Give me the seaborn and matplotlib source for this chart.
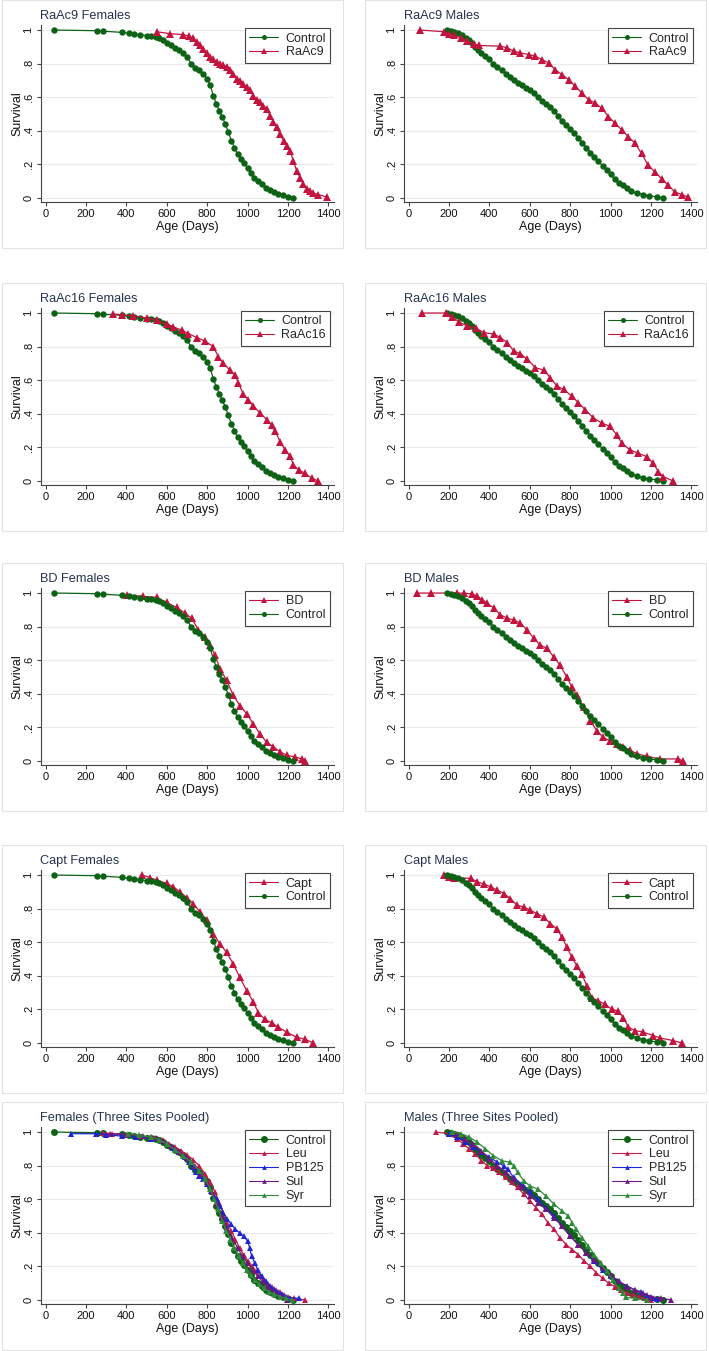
import matplotlib
matplotlib.use("Agg")
import matplotlib.pyplot as plt
from matplotlib.lines import Line2D
from matplotlib.patches import Rectangle
import pandas as pd
import seaborn as sns

# ---- survival data (age in days, survival fraction) ----
ctrl_f_age = [42, 256, 285, 380, 414, 440, 467, 500, 520, 545, 560, 580, 600, 620, 640, 660,
              680, 700, 720, 740, 760, 780, 800, 815, 830, 845, 860, 875, 890, 905, 920, 935,
              950, 965, 980, 1000, 1015, 1030, 1050, 1070, 1090, 1110, 1130, 1150, 1175, 1200, 1225]
ctrl_f_surv = [1.0, 0.996, 0.993, 0.986, 0.98, 0.976, 0.972, 0.967, 0.963, 0.96, 0.955, 0.94,
               0.925, 0.91, 0.895, 0.88, 0.865, 0.84, 0.80, 0.775, 0.76, 0.74, 0.71, 0.67, 0.61,
               0.56, 0.52, 0.48, 0.44, 0.39, 0.34, 0.30, 0.26, 0.235, 0.21, 0.18, 0.15, 0.12,
               0.10, 0.085, 0.06, 0.045, 0.035, 0.025, 0.015, 0.008, 0.0]

ctrl_m_age = [192, 210, 225, 245, 265, 285, 300, 315, 330, 345, 360, 380, 400, 420, 440, 460,
              480, 500, 520, 540, 560, 580, 600, 620, 640, 660, 680, 700, 720, 740, 760, 780,
              800, 820, 840, 860, 880, 900, 920, 940, 960, 980, 1000, 1020, 1040, 1060, 1080,
              1100, 1130, 1160, 1190, 1230, 1260]
ctrl_m_surv = [1.0, 0.995, 0.99, 0.98, 0.97, 0.955, 0.94, 0.92, 0.90, 0.88, 0.865, 0.845, 0.825,
               0.80, 0.78, 0.76, 0.74, 0.72, 0.70, 0.685, 0.67, 0.655, 0.64, 0.625, 0.60, 0.58,
               0.56, 0.54, 0.515, 0.49, 0.46, 0.435, 0.41, 0.385, 0.36, 0.33, 0.30, 0.27, 0.245,
               0.22, 0.19, 0.165, 0.14, 0.11, 0.09, 0.075, 0.06, 0.04, 0.03, 0.02, 0.012, 0.007, 0.0]

raac9_f_age = [550, 616, 679, 712, 730, 748, 765, 781, 798, 814, 830, 847, 863, 880, 897, 913,
               930, 946, 962, 979, 995, 1012, 1029, 1045, 1062, 1078, 1095, 1111, 1128, 1145,
               1161, 1178, 1194, 1210, 1227, 1243, 1260, 1276, 1293, 1310, 1326, 1350, 1395]
raac9_f_surv = [0.99, 0.978, 0.973, 0.964, 0.95, 0.93, 0.91, 0.89, 0.865, 0.84, 0.825, 0.81, 0.80,
                0.79, 0.78, 0.76, 0.74, 0.71, 0.695, 0.68, 0.66, 0.64, 0.61, 0.585, 0.57, 0.55,
                0.53, 0.49, 0.455, 0.42, 0.38, 0.34, 0.31, 0.28, 0.22, 0.16, 0.12, 0.085, 0.056,
                0.04, 0.03, 0.02, 0.005]

raac9_m_age = [56, 176, 200, 225, 258, 291, 324, 348, 455, 488, 521, 554, 595, 628, 661, 693,
               726, 759, 792, 825, 858, 891, 923, 956, 989, 1022, 1055, 1088, 1121, 1153, 1186,
               1219, 1252, 1285, 1318, 1351, 1383]
raac9_m_surv = [1.0, 0.99, 0.978, 0.968, 0.954, 0.934, 0.918, 0.908, 0.904, 0.894, 0.874, 0.864,
                0.854, 0.844, 0.824, 0.804, 0.764, 0.735, 0.705, 0.665, 0.625, 0.585, 0.565, 0.535,
                0.485, 0.445, 0.405, 0.365, 0.325, 0.265, 0.195, 0.155, 0.115, 0.075, 0.036, 0.02, 0.006]

raac16_f_age = [335, 376, 434, 500, 550, 599, 632, 674, 707, 748, 789, 830, 855, 880, 913, 938,
                954, 979, 1004, 1029, 1062, 1095, 1119, 1136, 1161, 1185, 1210, 1227, 1252, 1284,
                1317, 1350]
raac16_f_surv = [0.994, 0.99, 0.984, 0.97, 0.958, 0.934, 0.918, 0.898, 0.878, 0.854, 0.834, 0.80,
                 0.74, 0.70, 0.66, 0.63, 0.585, 0.515, 0.485, 0.445, 0.405, 0.365, 0.335, 0.295,
                 0.235, 0.185, 0.146, 0.096, 0.066, 0.046, 0.016, 0.0]

raac16_m_age = [69, 184, 217, 250, 291, 332, 373, 422, 455, 488, 521, 554, 587, 628, 669, 702,
                734, 767, 808, 841, 874, 915, 956, 997, 1030, 1055, 1096, 1137, 1178, 1211, 1236,
                1260, 1309]
raac16_m_surv = [1.0, 1.0, 0.978, 0.944, 0.924, 0.91, 0.884, 0.874, 0.854, 0.824, 0.774, 0.758,
                 0.725, 0.675, 0.66, 0.615, 0.565, 0.545, 0.505, 0.465, 0.425, 0.375, 0.345, 0.325,
                 0.275, 0.225, 0.185, 0.165, 0.145, 0.105, 0.056, 0.026, 0.0]

bd_f_age = [401, 484, 550, 599, 649, 690, 723, 756, 789, 814, 839, 863, 896, 929, 962, 996,
            1029, 1062, 1095, 1128, 1161, 1194, 1235, 1268, 1284]
bd_f_surv = [0.99, 0.98, 0.974, 0.944, 0.914, 0.88, 0.85, 0.78, 0.74, 0.69, 0.63, 0.55, 0.48,
             0.39, 0.33, 0.28, 0.22, 0.16, 0.11, 0.084, 0.054, 0.034, 0.024, 0.012, 0.0]

bd_m_age = [44, 110, 242, 274, 315, 340, 365, 389, 422, 455, 488, 521, 554, 587, 620, 652, 685,
            718, 750, 783, 808, 833, 866, 899, 932, 964, 997, 1030, 1063, 1096, 1129, 1178, 1244,
            1334, 1359]
bd_m_surv = [1.0, 1.0, 1.0, 0.998, 0.996, 0.98, 0.96, 0.94, 0.91, 0.87, 0.85, 0.84, 0.82, 0.78,
             0.73, 0.69, 0.67, 0.62, 0.57, 0.50, 0.44, 0.39, 0.32, 0.24, 0.18, 0.14, 0.12, 0.10,
             0.084, 0.064, 0.044, 0.028, 0.012, 0.012, 0.0]

capt_f_age = [479, 517, 550, 599, 632, 665, 698, 731, 764, 797, 830, 863, 896, 929, 962, 996,
              1029, 1053, 1086, 1119, 1152, 1194, 1243, 1284, 1326]
capt_f_surv = [1.0, 0.984, 0.97, 0.95, 0.93, 0.90, 0.866, 0.83, 0.78, 0.73, 0.65, 0.59, 0.54,
               0.47, 0.39, 0.31, 0.243, 0.18, 0.14, 0.12, 0.094, 0.064, 0.034, 0.022, 0.0]

capt_m_age = [176, 200, 225, 307, 340, 373, 406, 439, 472, 504, 537, 570, 603, 636, 669, 702,
              734, 759, 784, 808, 833, 858, 882, 907, 940, 973, 1006, 1038, 1063, 1088, 1121,
              1162, 1211, 1244, 1310, 1351]
capt_m_surv = [1.0, 0.99, 0.985, 0.98, 0.96, 0.946, 0.93, 0.91, 0.89, 0.86, 0.82, 0.81, 0.79,
               0.77, 0.75, 0.71, 0.68, 0.63, 0.57, 0.51, 0.46, 0.41, 0.34, 0.27, 0.25, 0.23, 0.20,
               0.19, 0.15, 0.094, 0.074, 0.064, 0.044, 0.03, 0.014, 0.0]

leu_f_age = [285, 330, 400, 460, 520, 545, 580, 610, 640, 670, 700, 730, 760, 790, 815, 840,
             860, 880, 900, 920, 940, 960, 980, 1000, 1020, 1040, 1060, 1080, 1100, 1120, 1140,
             1160, 1180, 1200, 1230, 1285]
leu_f_surv = [0.995, 0.99, 0.985, 0.978, 0.97, 0.965, 0.95, 0.93, 0.91, 0.89, 0.865, 0.835, 0.80,
              0.75, 0.70, 0.64, 0.58, 0.52, 0.46, 0.41, 0.36, 0.31, 0.27, 0.23, 0.20, 0.17, 0.14,
              0.12, 0.095, 0.075, 0.06, 0.045, 0.03, 0.02, 0.01, 0.0]

pb125_f_age = [125, 250, 300, 380, 450, 520, 560, 600, 630, 660, 690, 710, 730, 745, 760, 780,
               800, 820, 835, 850, 865, 880, 900, 920, 940, 960, 980, 1000, 1010, 1020, 1035,
               1050, 1070, 1090, 1110, 1130, 1150, 1170, 1190, 1210, 1255]
pb125_f_surv = [0.99, 0.99, 0.985, 0.975, 0.97, 0.96, 0.955, 0.93, 0.905, 0.88, 0.85, 0.82, 0.79,
                0.76, 0.74, 0.72, 0.69, 0.65, 0.62, 0.60, 0.56, 0.52, 0.48, 0.45, 0.42, 0.40,
                0.38, 0.35, 0.31, 0.26, 0.22, 0.18, 0.14, 0.11, 0.085, 0.065, 0.05, 0.035, 0.02,
                0.01, 0.01]

sul_f_age = [320, 400, 480, 540, 580, 620, 660, 700, 740, 770, 800, 825, 850, 875, 900, 925,
             950, 975, 1000, 1025, 1050, 1075, 1100, 1125, 1150, 1175, 1195]
sul_f_surv = [0.99, 0.985, 0.975, 0.965, 0.945, 0.915, 0.88, 0.845, 0.80, 0.75, 0.70, 0.64, 0.57,
              0.50, 0.43, 0.37, 0.31, 0.26, 0.22, 0.18, 0.14, 0.11, 0.08, 0.055, 0.035, 0.015, 0.0]

syr_f_age = [410, 460, 520, 560, 600, 640, 680, 720, 760, 790, 815, 835, 855, 875, 895, 915,
             935, 955, 975, 995, 1015, 1035, 1055, 1080, 1105, 1130, 1160, 1190, 1220]
syr_f_surv = [0.99, 0.98, 0.97, 0.955, 0.93, 0.895, 0.86, 0.82, 0.77, 0.72, 0.66, 0.60, 0.54,
              0.47, 0.41, 0.36, 0.31, 0.26, 0.22, 0.18, 0.15, 0.12, 0.095, 0.07, 0.05, 0.035,
              0.02, 0.01, 0.0]

leu_m_age = [135, 200, 240, 270, 300, 330, 360, 390, 420, 450, 480, 510, 540, 570, 600, 630,
             660, 690, 720, 750, 780, 810, 840, 870, 900, 930, 960, 990, 1020, 1050, 1080, 1110,
             1140, 1170, 1200]
leu_m_surv = [1.0, 0.99, 0.96, 0.93, 0.90, 0.87, 0.83, 0.80, 0.785, 0.76, 0.73, 0.70, 0.67, 0.63,
              0.59, 0.55, 0.51, 0.46, 0.42, 0.37, 0.33, 0.30, 0.27, 0.23, 0.20, 0.16, 0.13, 0.10,
              0.08, 0.06, 0.04, 0.03, 0.02, 0.01, 0.0]

pb125_m_age = [200, 240, 280, 320, 360, 400, 440, 470, 490, 520, 560, 600, 640, 680, 720, 760,
               800, 840, 880, 920, 960, 1000, 1040, 1080, 1120, 1150, 1180, 1210, 1230]
pb125_m_surv = [0.99, 0.97, 0.94, 0.91, 0.88, 0.85, 0.82, 0.80, 0.78, 0.73, 0.69, 0.64, 0.60,
                0.55, 0.50, 0.44, 0.38, 0.33, 0.28, 0.23, 0.18, 0.14, 0.11, 0.085, 0.06, 0.05,
                0.03, 0.01, 0.005]

sul_m_age = [240, 280, 320, 360, 400, 440, 480, 520, 560, 600, 640, 680, 720, 760, 800, 840,
             880, 920, 960, 1000, 1040, 1080, 1120, 1160, 1200, 1250, 1300]
sul_m_surv = [0.99, 0.96, 0.93, 0.89, 0.84, 0.80, 0.76, 0.72, 0.67, 0.62, 0.58, 0.54, 0.49, 0.44,
              0.38, 0.33, 0.28, 0.24, 0.19, 0.15, 0.11, 0.08, 0.06, 0.04, 0.02, 0.01, 0.0]

syr_m_age = [215, 260, 300, 340, 380, 420, 460, 500, 520, 540, 570, 600, 640, 680, 720, 760,
             790, 810, 830, 860, 890, 920, 950, 980, 1010, 1040, 1060, 1075, 1120, 1180]
syr_m_surv = [1.0, 0.99, 0.97, 0.94, 0.90, 0.86, 0.83, 0.82, 0.80, 0.76, 0.71, 0.68, 0.66, 0.62,
              0.57, 0.53, 0.50, 0.46, 0.42, 0.37, 0.32, 0.27, 0.22, 0.17, 0.12, 0.07, 0.04, 0.015,
              0.01, 0.0]

panel_titles = ["RaAc9 Females", "RaAc9 Males", "RaAc16 Females", "RaAc16 Males",
                "BD Females", "BD Males", "Capt Females", "Capt Males",
                "Females (Three Sites Pooled)", "Males (Three Sites Pooled)"]

panel_series = [
    [("Control", ctrl_f_age, ctrl_f_surv), ("RaAc9", raac9_f_age, raac9_f_surv)],
    [("Control", ctrl_m_age, ctrl_m_surv), ("RaAc9", raac9_m_age, raac9_m_surv)],
    [("Control", ctrl_f_age, ctrl_f_surv), ("RaAc16", raac16_f_age, raac16_f_surv)],
    [("Control", ctrl_m_age, ctrl_m_surv), ("RaAc16", raac16_m_age, raac16_m_surv)],
    [("BD", bd_f_age, bd_f_surv), ("Control", ctrl_f_age, ctrl_f_surv)],
    [("BD", bd_m_age, bd_m_surv), ("Control", ctrl_m_age, ctrl_m_surv)],
    [("Capt", capt_f_age, capt_f_surv), ("Control", ctrl_f_age, ctrl_f_surv)],
    [("Capt", capt_m_age, capt_m_surv), ("Control", ctrl_m_age, ctrl_m_surv)],
    [("Control", ctrl_f_age, ctrl_f_surv), ("Leu", leu_f_age, leu_f_surv),
     ("PB125", pb125_f_age, pb125_f_surv), ("Sul", sul_f_age, sul_f_surv),
     ("Syr", syr_f_age, syr_f_surv)],
    [("Control", ctrl_m_age, ctrl_m_surv), ("Leu", leu_m_age, leu_m_surv),
     ("PB125", pb125_m_age, pb125_m_surv), ("Sul", sul_m_age, sul_m_surv),
     ("Syr", syr_m_age, syr_m_surv)],
]

GREEN = "#0d6216"
RED = "#c2143f"
TREAT_STYLE = {"RaAc9": RED, "RaAc16": RED, "BD": RED, "Capt": RED,
               "Leu": "#c0194a", "PB125": "#1c25d6", "Sul": "#6e1780", "Syr": "#2f8a3a"}

W, H = 709, 1351
BOX_LEFT = [2, 365]
BOX_TOP = [0, 283, 563, 845, 1102]
BOX_W, BOX_H = 341, 248

sns.set_style("white")
plt.rcParams["font.family"] = ["Liberation Sans", "DejaVu Sans"]

fig = plt.figure(figsize=(W / 100, H / 100), dpi=100)
fig.patch.set_facecolor("white")

for i, (title, series) in enumerate(zip(panel_titles, panel_series)):
    row, col = divmod(i, 2)
    bx, by = BOX_LEFT[col], BOX_TOP[row]
    fig.add_artist(Rectangle((bx / W, 1 - (by + BOX_H) / H), BOX_W / W, BOX_H / H,
                             transform=fig.transFigure, facecolor="white",
                             edgecolor="#e3e3e3", linewidth=0.8, zorder=0))
    ax_l, ax_t, ax_w, ax_h = bx + 38.5, by + 25, 293, 177
    ax = fig.add_axes([ax_l / W, 1 - (ax_t + ax_h) / H, ax_w / W, ax_h / H])
    ax.patch.set_alpha(0)

    pooled = len(series) > 2
    handles, labels = [], []
    for name, ages, surv in series:
        df = pd.DataFrame({"age": ages, "surv": surv})
        if name == "Control":
            color, marker = GREEN, "o"
            ms, leg_ms = (5.0, 5.0) if pooled else (4.6, 3.6)
        else:
            color, marker = TREAT_STYLE[name], "^"
            ms, leg_ms = (4.2, 3.4) if pooled else (5.2, 4.2)
        sns.lineplot(data=df, x="age", y="surv", color=color, marker=marker,
                     markersize=ms, markeredgewidth=0, linewidth=0.9,
                     estimator=None, sort=False, ax=ax)
        handles.append(Line2D([0], [0], color=color, marker=marker, markersize=leg_ms,
                              markeredgewidth=0, linewidth=0.8))
        labels.append(name)

    ax.set_xlim(-25, 1425)
    ax.set_ylim(-0.024, 1.03)
    ax.set_xticks(range(0, 1401, 200))
    ax.set_yticks([0, 0.2, 0.4, 0.6, 0.8, 1.0])
    ax.set_yticklabels(["0", ".2", ".4", ".6", ".8", "1"], rotation=90, va="center")
    ax.yaxis.grid(True, color="#ececec", linewidth=0.8)
    ax.xaxis.grid(False)
    ax.set_axisbelow(True)
    for side in ["top", "right"]:
        ax.spines[side].set_visible(False)
    for side in ["left", "bottom"]:
        ax.spines[side].set_color("#444444")
        ax.spines[side].set_linewidth(0.8)
    ax.tick_params(axis="both", length=3, width=0.8, color="#444444",
                   labelsize=8, pad=2, labelcolor="#111111", direction="out",
                   bottom=True, left=True)
    ax.set_xlabel("Age (Days)", fontsize=9, color="#111111", labelpad=1.5)
    ax.set_ylabel("Survival", fontsize=9, color="#111111", labelpad=0)
    ax.set_title(title, loc="left", fontsize=9.2, color="#263450", pad=4)

    leg = ax.legend(handles, labels, loc="upper right", bbox_to_anchor=(1, 1),
                    borderaxespad=0.25, frameon=True, fancybox=False,
                    edgecolor="#444444", framealpha=1, fontsize=9,
                    handlelength=2.3, handletextpad=0.6, labelspacing=0.15,
                    borderpad=0.35)
    leg.get_frame().set_linewidth(0.8)

fig.savefig("out.png", dpi=100, facecolor="white")
